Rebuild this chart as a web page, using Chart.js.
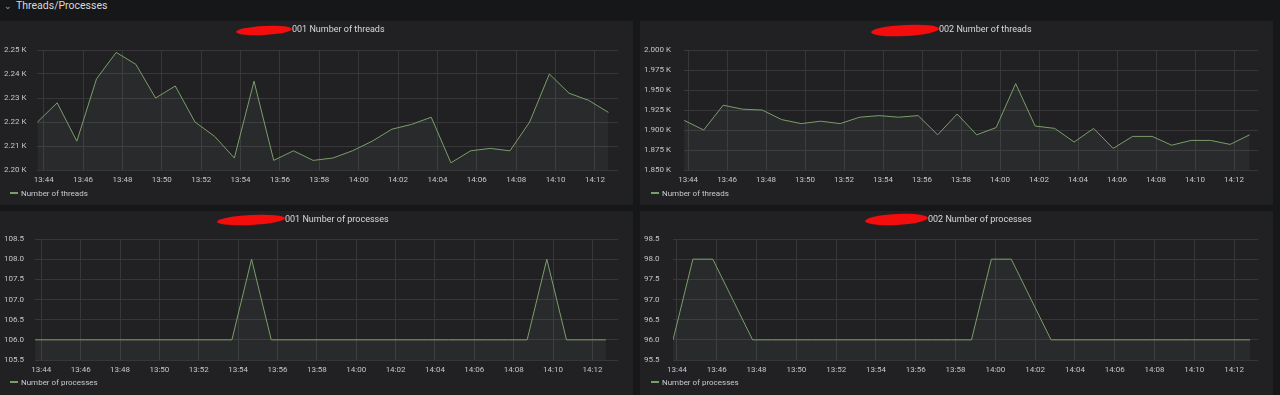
<!DOCTYPE html>
<html>
<head>
<meta charset="utf-8">
<script src="https://cdn.jsdelivr.net/npm/chart.js@4/dist/chart.umd.min.js"></script>
<style>
  body { margin: 0; background: #161719; width: 1280px; height: 395px; overflow: hidden; font-family: Roboto, sans-serif; }
  .row-title { position: absolute; left: 4px; top: 0; height: 14px; line-height: 12px; color: #d8d9da; font-size: 10.5px; }
  .row-title .chev { display: inline-block; font-size: 9px; margin-right: 4px; color: #9fa3a7; }
  .panel { position: absolute; width: 633px; height: 184px; background: #212124; }
  .panel canvas { position: absolute; left: 0; top: 0; }
  .title { position: absolute; top: 3px; font-size: 9px; color: #d8d9da; white-space: nowrap; }
  .scribble { position: absolute; background: #f40d0d; border-radius: 50%; transform: rotate(-3deg); }
  .legend { position: absolute; font-size: 8px; color: #c7c9cc; white-space: nowrap; }
  .legend i { display: inline-block; width: 8px; height: 2px; background: #7a9e6a; vertical-align: middle; margin-right: 3px; position: relative; top: -1px; }
</style>
</head>
<body>
<div class="row-title"><span class="chev">&#8964;</span>Threads/Processes</div>

<div class="panel" id="p1" style="left:0;top:21px">
  <canvas id="c1" width="633" height="184"></canvas>
  <div class="scribble" style="left:236px;top:5px;width:56px;height:9px"></div>
  <div class="title" style="left:292px">001 Number of threads</div>
  <div class="legend" style="left:10px;top:168px"><i></i>Number of threads</div>
</div>
<div class="panel" id="p2" style="left:640px;top:21px">
  <canvas id="c2" width="633" height="184"></canvas>
  <div class="scribble" style="left:231px;top:4px;width:68px;height:11px"></div>
  <div class="title" style="left:299px">002 Number of threads</div>
  <div class="legend" style="left:11px;top:168px"><i></i>Number of threads</div>
</div>
<div class="panel" id="p3" style="left:0;top:211px">
  <canvas id="c3" width="633" height="184"></canvas>
  <div class="scribble" style="left:217px;top:4px;width:68px;height:10px"></div>
  <div class="title" style="left:285px">001 Number of processes</div>
  <div class="legend" style="left:10px;top:167px"><i></i>Number of processes</div>
</div>
<div class="panel" id="p4" style="left:640px;top:211px">
  <canvas id="c4" width="633" height="184"></canvas>
  <div class="scribble" style="left:225px;top:3px;width:63px;height:11px"></div>
  <div class="title" style="left:288px">002 Number of processes</div>
  <div class="legend" style="left:11px;top:167px"><i></i>Number of processes</div>
</div>

<script>
// sample times (one scrape per minute)
const times001 = ['13:43:41','13:44:41','13:45:41','13:46:41','13:47:41','13:48:41','13:49:41','13:50:41','13:51:41','13:52:41',
  '13:53:41','13:54:41','13:55:41','13:56:41','13:57:41','13:58:41','13:59:41','14:00:41','14:01:41','14:02:41',
  '14:03:41','14:04:41','14:05:41','14:06:41','14:07:41','14:08:41','14:09:41','14:10:41','14:11:41','14:12:41'];
const times002 = ['13:43:48','13:44:48','13:45:48','13:46:48','13:47:48','13:48:48','13:49:48','13:50:48','13:51:48','13:52:48',
  '13:53:48','13:54:48','13:55:48','13:56:48','13:57:48','13:58:48','13:59:48','14:00:48','14:01:48','14:02:48',
  '14:03:48','14:04:48','14:05:48','14:06:48','14:07:48','14:08:48','14:09:48','14:10:48','14:11:48','14:12:48'];

const threads001 = [2220, 2228, 2212, 2238, 2249, 2244, 2230, 2235, 2220, 2214,
  2205, 2237, 2204, 2208, 2204, 2205, 2208, 2212, 2217, 2219,
  2222, 2203, 2208, 2209, 2208, 2220, 2240, 2232, 2229, 2224];
const threads002 = [1912, 1900, 1931, 1926, 1925, 1913, 1908, 1911, 1908, 1916,
  1918, 1916, 1918, 1894, 1920, 1894, 1903, 1958, 1905, 1902,
  1885, 1902, 1877, 1892, 1892, 1881, 1887, 1887, 1882, 1894];
const procs001 = [106, 106, 106, 106, 106, 106, 106, 106, 106, 106,
  106, 108, 106, 106, 106, 106, 106, 106, 106, 106,
  106, 106, 106, 106, 106, 106, 108, 106, 106, 106];
const procs002 = [96, 98, 98, 97, 96, 96, 96, 96, 96, 96,
  96, 96, 96, 96, 96, 96, 98, 98, 97, 96,
  96, 96, 96, 96, 96, 96, 96, 96, 96, 96];

const xTicks = ['13:44','13:46','13:48','13:50','13:52','13:54','13:56','13:58','14:00','14:02','14:04','14:06','14:08','14:10','14:12'];

// minutes after 13:00
function toMin(t) {
  const p = t.split(':').map(Number);
  return (p[0] - 13) * 60 + p[1] + (p[2] || 0) / 60;
}
function minLabel(v) {
  const h = 13 + Math.floor(v / 60);
  const m = Math.round(v - (h - 13) * 60);
  return h + ':' + String(m).padStart(2, '0');
}

const gridColor = '#37373a';
const tickColor = '#c3c6ca';
const lineColor = '#7a9e6a';

function makePanel(id, times, values, opts) {
  new Chart(document.getElementById(id), {
    type: 'line',
    data: {
      datasets: [{
        data: times.map((t, i) => ({ x: toMin(t), y: values[i] })),
        borderColor: lineColor,
        backgroundColor: 'rgba(190,205,185,0.055)',
        borderWidth: 1,
        pointRadius: 0,
        tension: 0,
        fill: 'start'
      }]
    },
    options: {
      responsive: false,
      animation: false,
      layout: { padding: { left: 4, right: 15, top: opts.top, bottom: 15 } },
      plugins: { legend: { display: false }, tooltip: { enabled: false } },
      scales: {
        x: {
          type: 'linear',
          min: opts.xmin,
          max: opts.xmax,
          afterFit: s => { s.height = 20; },
          afterBuildTicks: s => { s.ticks = xTicks.map(t => ({ value: toMin(t) })); },
          grid: { color: gridColor, drawTicks: false },
          border: { display: false },
          ticks: { color: tickColor, font: { family: 'Roboto', size: 8 }, padding: 5, maxRotation: 0, autoSkip: false,
            callback: v => minLabel(v) }
        },
        y: {
          min: opts.ymin,
          max: opts.ymax,
          afterFit: s => { s.width = opts.left - 4; },
          grid: { color: gridColor, drawTicks: false },
          border: { display: false },
          ticks: { stepSize: opts.step, color: tickColor, font: { family: 'Roboto', size: 8 }, crossAlign: 'far',
            callback: opts.fmt }
        }
      }
    }
  });
}

makePanel('c1', times001, threads001, { left: 37, top: 29, xmin: 43.66, xmax: 73.17, ymin: 2200, ymax: 2250, step: 10,
  fmt: v => (v / 1000).toFixed(2) + ' K' });
makePanel('c2', times002, threads002, { left: 44, top: 29, xmin: 43.79, xmax: 73.23, ymin: 1850, ymax: 2000, step: 25,
  fmt: v => (v / 1000).toFixed(3) + ' K' });
makePanel('c3', times001, procs001, { left: 35, top: 28, xmin: 43.68, xmax: 73.3, ymin: 105.5, ymax: 108.5, step: 0.5,
  fmt: v => v.toFixed(1) });
makePanel('c4', times002, procs002, { left: 33, top: 28, xmin: 43.8, xmax: 73.2, ymin: 95.5, ymax: 98.5, step: 0.5,
  fmt: v => v.toFixed(1) });
</script>
</body>
</html>
